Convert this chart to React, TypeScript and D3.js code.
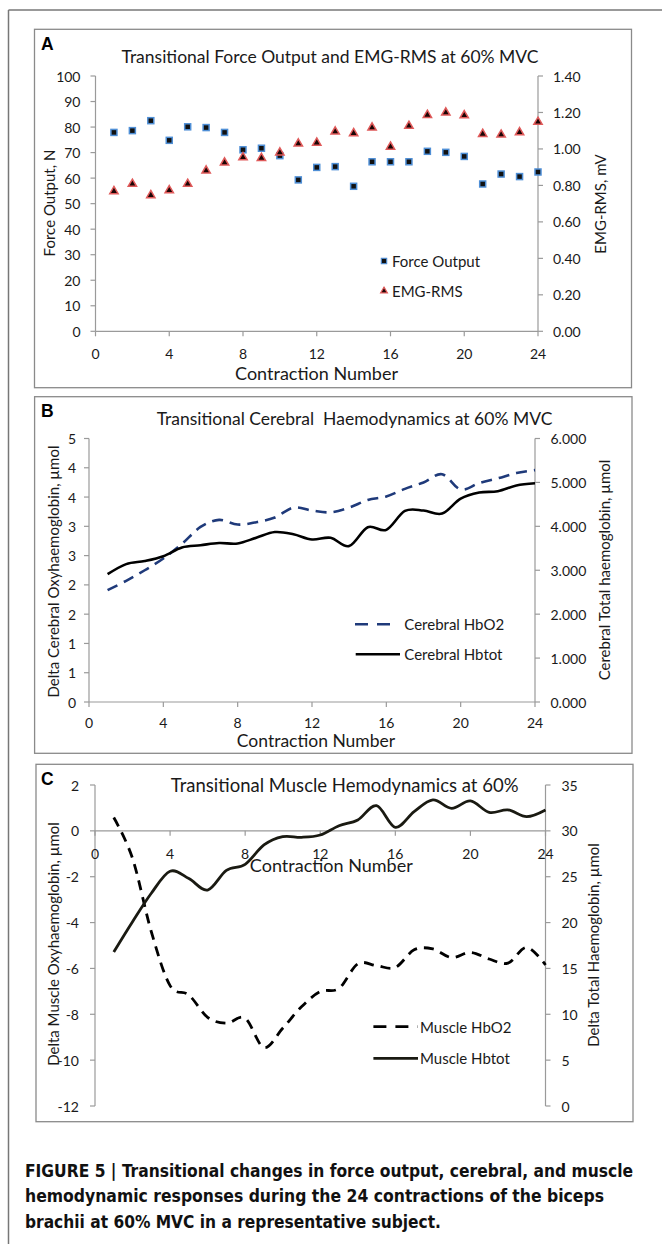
import React from "react";
import * as d3 from "d3";

// ---------- DATA ----------
const contraction = [1, 2, 3, 4, 5, 6, 7, 8, 9, 10, 11, 12, 13, 14, 15, 16, 17, 18, 19, 20, 21, 22, 23, 24];
const xTicks = [0, 4, 8, 12, 16, 20, 24];

// Panel A
const forceOutput = [77.9, 78.6, 82.5, 74.8, 80.1, 79.8, 77.9, 71.1, 71.7, 68.8, 59.3, 64.2, 64.5, 56.8, 66.4, 66.4, 66.4, 70.5, 70.1, 68.5, 57.7, 61.6, 60.6, 62.4];
const emgRms = [0.768, 0.808, 0.746, 0.773, 0.808, 0.881, 0.925, 0.954, 0.95, 0.98, 1.029, 1.034, 1.095, 1.086, 1.117, 1.012, 1.126, 1.186, 1.199, 1.184, 1.082, 1.078, 1.091, 1.148];
const forceTicks = [0, 10, 20, 30, 40, 50, 60, 70, 80, 90, 100];
const emgTicks = [0, 0.2, 0.4, 0.6, 0.8, 1.0, 1.2, 1.4];
const emgTickLabels = ["0.00", "0.20", "0.40", "0.60", "0.80", "1.00", "1.20", "1.40"];

// Panel B
const cerebralHbO2 = [1.91, 2.07, 2.25, 2.45, 2.7, 2.99, 3.11, 3.03, 3.07, 3.15, 3.32, 3.27, 3.24, 3.32, 3.45, 3.51, 3.64, 3.75, 3.89, 3.63, 3.74, 3.82, 3.91, 3.96];
const cerebralHbtot = [2.91, 3.14, 3.21, 3.32, 3.52, 3.57, 3.62, 3.61, 3.74, 3.87, 3.82, 3.7, 3.74, 3.55, 3.98, 3.92, 4.35, 4.36, 4.29, 4.63, 4.77, 4.8, 4.93, 4.98];
const cerebralLeftTicks = [0, 0.5, 1, 1.5, 2, 2.5, 3, 3.5, 4, 4.5];
const cerebralLeftLabels = ["0", "1", "1", "2", "2", "3", "3", "4", "4", "5"];
const cerebralRightTicks = [0, 1, 2, 3, 4, 5, 6];
const cerebralRightLabels = ["0.000", "1.000", "2.000", "3.000", "4.000", "5.000", "6.000"];

// Panel C
const muscleHbO2 = [0.58, -1.2, -4.4, -6.75, -7.16, -8.13, -8.39, -8.17, -9.45, -8.61, -7.67, -7.01, -6.87, -5.8, -5.88, -5.96, -5.19, -5.15, -5.53, -5.3, -5.59, -5.77, -5.08, -5.85];
const muscleHbtot = [16.8, 20.1, 23.2, 25.6, 24.8, 23.55, 25.7, 26.35, 28.46, 29.37, 29.3, 29.55, 30.56, 31.19, 32.75, 30.39, 32.09, 33.37, 32.46, 33.26, 32.02, 32.28, 31.55, 32.28];
const muscleLeftTicks = [-12, -10, -8, -6, -4, -2, 0, 2];
const muscleRightTicks = [0, 5, 10, 15, 20, 25, 30, 35];

const captionLines = [
  "FIGURE 5 | Transitional changes in force output, cerebral, and muscle",
  "hemodynamic responses during the 24 contractions of the biceps",
  "brachii at 60% MVC in a representative subject.",
];
const captionWidths = [608, 579, 416];

const FONT = "Lato, 'Open Sans', sans-serif";
const AXIS = "#9a9a9a";
const BOX = "#8a8a8a";
const TXT = "#1a1a1a";

type Sc = d3.ScaleLinear<number, number>;

function LeftAxis({ y, x, ticks, labels, gap = 15, y0, y1 }: { y: Sc; x: number; ticks: number[]; labels: string[]; gap?: number; y0: number; y1: number }) {
  return (
    <g>
      <line x1={x} x2={x} y1={y0} y2={y1} stroke={AXIS} strokeWidth={1.2} />
      {ticks.map((t, i) => (
        <g key={i}>
          <line x1={x - 5} x2={x} y1={y(t)} y2={y(t)} stroke={AXIS} strokeWidth={1.2} />
          <text x={x - gap} y={y(t)} textAnchor="end" dominantBaseline="central" fontFamily={FONT} fontSize={14} fill={TXT}>
            {labels[i]}
          </text>
        </g>
      ))}
    </g>
  );
}

function RightAxis({ y, x, ticks, labels, gap = 15, y0, y1 }: { y: Sc; x: number; ticks: number[]; labels: string[]; gap?: number; y0: number; y1: number }) {
  return (
    <g>
      <line x1={x} x2={x} y1={y0} y2={y1} stroke={AXIS} strokeWidth={1.2} />
      {ticks.map((t, i) => (
        <g key={i}>
          <line x1={x} x2={x + 5} y1={y(t)} y2={y(t)} stroke={AXIS} strokeWidth={1.2} />
          <text x={x + gap} y={y(t)} textAnchor="start" dominantBaseline="central" fontFamily={FONT} fontSize={14} fill={TXT}>
            {labels[i]}
          </text>
        </g>
      ))}
    </g>
  );
}

function BottomAxis({ x, yPos, labelY }: { x: Sc; yPos: number; labelY: number }) {
  return (
    <g>
      <line x1={x(0)} x2={x(24)} y1={yPos} y2={yPos} stroke={AXIS} strokeWidth={1.2} />
      {xTicks.map((t) => (
        <g key={t}>
          <line x1={x(t)} x2={x(t)} y1={yPos} y2={yPos + 5} stroke={AXIS} strokeWidth={1.2} />
          <text x={x(t)} y={labelY} textAnchor="middle" dominantBaseline="central" fontFamily={FONT} fontSize={14} fill={TXT}>
            {t}
          </text>
        </g>
      ))}
    </g>
  );
}

function VTitle({ x, y, text, size = 15 }: { x: number; y: number; text: string; size?: number }) {
  return (
    <text transform={`translate(${x},${y}) rotate(-90)`} textAnchor="middle" dominantBaseline="central" fontFamily={FONT} fontSize={size} fill={TXT}>
      {text}
    </text>
  );
}

function Letter({ x, y, t }: { x: number; y: number; t: string }) {
  return (
    <text x={x} y={y} fontFamily="'Liberation Sans', Arial, sans-serif" fontWeight="bold" fontSize={17.5} fill="#000">
      {t}
    </text>
  );
}

const fmtNum = (v: number) => String(v);

export default function App() {
  // Panel A scales
  const xA = d3.scaleLinear().domain([0, 24]).range([95.5, 538]);
  const yA = d3.scaleLinear().domain([0, 100]).range([331.3, 76]);
  const yA2 = d3.scaleLinear().domain([0, 1.4]).range([331.3, 76]);

  // Panel B scales
  const xB = d3.scaleLinear().domain([0, 24]).range([89, 535]);
  const yB = d3.scaleLinear().domain([0, 4.5]).range([702, 438.5]);
  const yB2 = d3.scaleLinear().domain([0, 6]).range([702, 438.5]);

  // Panel C scales
  const xC = d3.scaleLinear().domain([0, 24]).range([95, 545.5]);
  const yC = d3.scaleLinear().domain([-12, 2]).range([1106, 785]);
  const yC2 = d3.scaleLinear().domain([0, 35]).range([1106, 785]);

  const curve = d3.curveCardinal.tension(0);
  const mkLine = (xs: Sc, ys: Sc) =>
    d3
      .line<number>()
      .x((_, i) => xs(contraction[i]))
      .y((d) => ys(d))
      .curve(curve);

  const tri = d3.symbol().type(d3.symbolTriangle).size(30)() as string;
  const triLeg = d3.symbol().type(d3.symbolTriangle).size(20)() as string;

  return (
    <svg width={662} height={1244} style={{ position: "absolute", left: 0, top: 0, background: "#fff" }}>
      <rect x={0} y={0} width={662} height={1244} fill="#fff" />
      {/* outer frame */}
      <line x1={8.5} x2={662} y1={10} y2={10} stroke="#777" strokeWidth={1.5} />
      <line x1={8.5} x2={8.5} y1={10} y2={1244} stroke="#777" strokeWidth={1.5} />

      {/* ---------- Panel A ---------- */}
      <rect x={34.5} y={29.3} width={597} height={358.4} fill="#fff" stroke={BOX} strokeWidth={1.3} />
      <Letter x={41} y={50} t="A" />
      <text x={330} y={63} textAnchor="middle" fontFamily={FONT} fontSize={17.5} fill={TXT}>
        Transitional Force Output and EMG-RMS at 60% MVC
      </text>
      <LeftAxis y={yA} x={xA(0)} ticks={forceTicks} labels={forceTicks.map(fmtNum)} y0={yA(0)} y1={yA(100)} />
      <RightAxis y={yA2} x={xA(24)} ticks={emgTicks} labels={emgTickLabels} y0={yA2(0)} y1={yA2(1.4)} />
      <BottomAxis x={xA} yPos={yA(0)} labelY={353} />
      <text x={316.5} y={373.3} textAnchor="middle" dominantBaseline="central" fontFamily={FONT} fontSize={18} fill={TXT}>
        Contraction Number
      </text>
      <VTitle x={48.5} y={203} text="Force Output, N" />
      <VTitle x={600} y={204} text="EMG-RMS, mV" />
      {forceOutput.map((v, i) => (
        <rect key={"f" + i} x={xA(contraction[i]) - 3} y={yA(v) - 3} width={6} height={6} fill="#111" stroke="#4f8fd6" strokeWidth={1.5} />
      ))}
      {emgRms.map((v, i) => (
        <path key={"e" + i} d={tri} transform={`translate(${xA(contraction[i])},${yA2(v)})`} fill="#1a0505" stroke="#e05a5a" strokeWidth={1.5} />
      ))}
      {/* legend A */}
      <rect x={381.3} y={258.3} width={5.4} height={5.4} fill="#111" stroke="#4f8fd6" strokeWidth={1.1} />
      <text x={392} y={261} dominantBaseline="central" fontFamily={FONT} fontSize={15} fill={TXT}>
        Force Output
      </text>
      <path d={triLeg} transform="translate(384,291)" fill="#1a0505" stroke="#e05a5a" strokeWidth={1.2} />
      <text x={392} y={291} dominantBaseline="central" fontFamily={FONT} fontSize={15} fill={TXT}>
        EMG-RMS
      </text>

      {/* ---------- Panel B ---------- */}
      <rect x={34.6} y={396.7} width={597.4} height={356.6} fill="#fff" stroke={BOX} strokeWidth={1.3} />
      <Letter x={41} y={416.7} t="B" />
      <text x={354.5} y={424.5} textAnchor="middle" fontFamily={FONT} fontSize={17.5} fill={TXT} style={{ whiteSpace: "pre" }}>
        {"Transitional Cerebral  Haemodynamics at 60% MVC"}
      </text>
      <LeftAxis y={yB} x={xB(0)} ticks={cerebralLeftTicks} labels={cerebralLeftLabels} gap={13} y0={yB(0)} y1={yB(4.5)} />
      <RightAxis y={yB2} x={xB(24)} ticks={cerebralRightTicks} labels={cerebralRightLabels} gap={15.5} y0={yB2(0)} y1={yB2(6)} />
      <BottomAxis x={xB} yPos={yB(0)} labelY={722} />
      <text x={316} y={740.5} textAnchor="middle" dominantBaseline="central" fontFamily={FONT} fontSize={17.5} fill={TXT}>
        Contraction Number
      </text>
      <VTitle x={52.7} y={571.5} text="Delta Cerebral Oxyhaemoglobin, µmol" />
      <VTitle x={603.5} y={570} text="Cerebral Total haemoglobin, µmol" />
      <path d={mkLine(xB, yB)(cerebralHbO2) as string} fill="none" stroke="#1f3a7a" strokeWidth={2.6} strokeDasharray="11,7" />
      <path d={mkLine(xB, yB2)(cerebralHbtot) as string} fill="none" stroke="#000" strokeWidth={2.6} />
      {/* legend B */}
      <line x1={355} x2={399} y1={624.3} y2={624.3} stroke="#1f3a7a" strokeWidth={2.6} strokeDasharray="13,9" />
      <text x={404.3} y={624.3} dominantBaseline="central" fontFamily={FONT} fontSize={15} fill={TXT}>
        Cerebral HbO2
      </text>
      <line x1={355.7} x2={400} y1={654.3} y2={654.3} stroke="#000" strokeWidth={2.6} />
      <text x={404.3} y={654.3} dominantBaseline="central" fontFamily={FONT} fontSize={15} fill={TXT}>
        Cerebral Hbtot
      </text>

      {/* ---------- Panel C ---------- */}
      <rect x={36} y={764.3} width={597} height={357.4} fill="#fff" stroke={BOX} strokeWidth={1.3} />
      <Letter x={41} y={785} t="C" />
      <text x={344.7} y={792} textAnchor="middle" fontFamily={FONT} fontSize={18.5} fill={TXT}>
        Transitional Muscle Hemodynamics at 60%
      </text>
      <LeftAxis y={yC} x={xC(0)} ticks={muscleLeftTicks} labels={muscleLeftTicks.map(fmtNum)} gap={16} y0={yC(-12)} y1={yC(2)} />
      <RightAxis y={yC2} x={xC(24)} ticks={muscleRightTicks} labels={muscleRightTicks.map(fmtNum)} gap={16} y0={yC2(0)} y1={yC2(35)} />
      <BottomAxis x={xC} yPos={yC(0)} labelY={853} />
      <text x={331.3} y={865} textAnchor="middle" dominantBaseline="central" fontFamily={FONT} fontSize={18} fill={TXT}>
        Contraction Number
      </text>
      <VTitle x={52.7} y={944} text="Delta Muscle Oxyhaemoglobin, µmol" />
      <VTitle x={593} y={945} text="Delta Total Haemoglobin, µmol" />
      <path d={mkLine(xC, yC)(muscleHbO2) as string} fill="none" stroke="#000" strokeWidth={2.8} strokeDasharray="10,7" />
      <path d={mkLine(xC, yC2)(muscleHbtot) as string} fill="none" stroke="#1a1a12" strokeWidth={2.8} />
      {/* legend C */}
      <line x1={373.4} x2={417.7} y1={1026.7} y2={1026.7} stroke="#000" strokeWidth={2.8} strokeDasharray="13,9" />
      <text x={420} y={1026.7} dominantBaseline="central" fontFamily={FONT} fontSize={15} fill={TXT}>
        Muscle HbO2
      </text>
      <line x1={373.4} x2={418} y1={1058.3} y2={1058.3} stroke="#1a1a12" strokeWidth={2.8} />
      <text x={420} y={1058.3} dominantBaseline="central" fontFamily={FONT} fontSize={15} fill={TXT}>
        Muscle Hbtot
      </text>

      {/* ---------- Caption ---------- */}
      <g fontFamily="'DejaVu Sans Condensed', 'Liberation Sans Narrow', sans-serif" fontWeight="bold" fontSize={17} fill="#111">
        {captionLines.map((line, i) => (
          <text key={i} x={25} y={1176.7 + i * 25.7} textLength={captionWidths[i]} lengthAdjust="spacingAndGlyphs">
            {line}
          </text>
        ))}
      </g>
    </svg>
  );
}
